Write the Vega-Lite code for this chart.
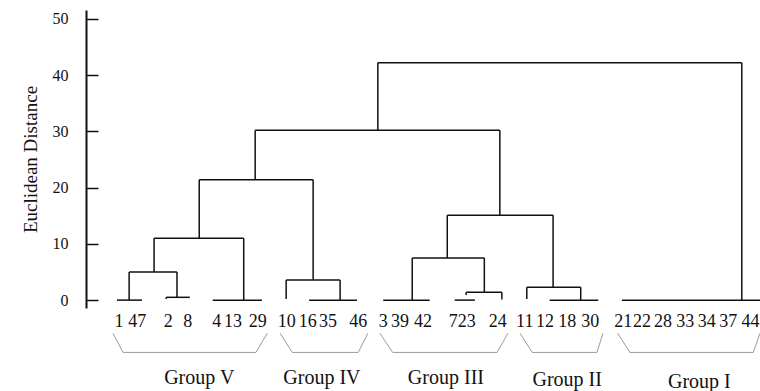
{
  "$schema": "https://vega.github.io/schema/vega-lite/v6.json",
  "width": 674,
  "height": 298,
  "autosize": {"type": "none"},
  "padding": {"left": 86, "top": 10, "right": 0, "bottom": 83},
  "background": "white",
  "config": {"view": {"stroke": null}, "font": "Liberation Serif"},
  "datasets": {
    "segs": [
      {"x1": 4.6, "x2": 8.3, "y1": 0, "y2": 0},
      {"x1": 6.4, "x2": 6.4, "y1": 0, "y2": 5.0},
      {"x1": 11.9, "x2": 15.4, "y1": 0.5, "y2": 0.5},
      {"x1": 11.9, "x2": 11.9, "y1": 0.2, "y2": 0.5},
      {"x1": 13.5, "x2": 13.5, "y1": 0.5, "y2": 5.0},
      {"x1": 6.4, "x2": 13.5, "y1": 5.0, "y2": 5.0},
      {"x1": 10.1, "x2": 10.1, "y1": 5.0, "y2": 11.0},
      {"x1": 18.8, "x2": 26.1, "y1": 0, "y2": 0},
      {"x1": 23.4, "x2": 23.4, "y1": 0, "y2": 11.0},
      {"x1": 10.1, "x2": 23.4, "y1": 11.0, "y2": 11.0},
      {"x1": 16.8, "x2": 16.8, "y1": 11.0, "y2": 21.4},
      {"x1": 29.7, "x2": 29.7, "y1": 0.2, "y2": 3.6},
      {"x1": 33.1, "x2": 40.2, "y1": 0, "y2": 0},
      {"x1": 37.7, "x2": 37.7, "y1": 0, "y2": 3.6},
      {"x1": 29.7, "x2": 37.7, "y1": 3.6, "y2": 3.6},
      {"x1": 33.7, "x2": 33.7, "y1": 3.6, "y2": 21.4},
      {"x1": 16.8, "x2": 33.7, "y1": 21.4, "y2": 21.4},
      {"x1": 25.1, "x2": 25.1, "y1": 21.4, "y2": 30.2},
      {"x1": 44.1, "x2": 51.0, "y1": 0, "y2": 0},
      {"x1": 48.4, "x2": 48.4, "y1": 0, "y2": 7.5},
      {"x1": 54.7, "x2": 57.7, "y1": 0, "y2": 0},
      {"x1": 56.4, "x2": 61.7, "y1": 1.4, "y2": 1.4},
      {"x1": 61.7, "x2": 61.7, "y1": 0.1, "y2": 1.4},
      {"x1": 56.4, "x2": 56.4, "y1": 0.9, "y2": 1.4},
      {"x1": 59.1, "x2": 59.1, "y1": 1.4, "y2": 7.5},
      {"x1": 48.4, "x2": 59.1, "y1": 7.5, "y2": 7.5},
      {"x1": 53.6, "x2": 53.6, "y1": 7.5, "y2": 15.1},
      {"x1": 65.4, "x2": 65.4, "y1": 0.2, "y2": 2.3},
      {"x1": 68.8, "x2": 76.0, "y1": 0, "y2": 0},
      {"x1": 73.4, "x2": 73.4, "y1": 0, "y2": 2.3},
      {"x1": 65.4, "x2": 73.4, "y1": 2.3, "y2": 2.3},
      {"x1": 69.3, "x2": 69.3, "y1": 2.3, "y2": 15.1},
      {"x1": 53.6, "x2": 69.3, "y1": 15.1, "y2": 15.1},
      {"x1": 61.4, "x2": 61.4, "y1": 15.1, "y2": 30.2},
      {"x1": 25.1, "x2": 61.4, "y1": 30.2, "y2": 30.2},
      {"x1": 43.3, "x2": 43.3, "y1": 30.2, "y2": 42.2},
      {"x1": 79.5, "x2": 100, "y1": 0, "y2": 0},
      {"x1": 97.3, "x2": 97.3, "y1": 0, "y2": 42.2},
      {"x1": 43.3, "x2": 97.3, "y1": 42.2, "y2": 42.2}
    ],
    "leaves": [
      {"id": "1", "x": 4.9}, {"id": "47", "x": 7.6}, {"id": "2", "x": 12.2}, {"id": "8", "x": 15.1},
      {"id": "4", "x": 19.4}, {"id": "13", "x": 21.8}, {"id": "29", "x": 25.5},
      {"id": "10", "x": 29.8}, {"id": "16", "x": 32.9}, {"id": "35", "x": 35.9}, {"id": "46", "x": 40.4},
      {"id": "3", "x": 44.1}, {"id": "39", "x": 46.6}, {"id": "42", "x": 50.0},
      {"id": "7", "x": 54.5}, {"id": "23", "x": 56.5}, {"id": "24", "x": 61.1},
      {"id": "11", "x": 65.1}, {"id": "12", "x": 68.1}, {"id": "18", "x": 71.4}, {"id": "30", "x": 74.8},
      {"id": "21", "x": 79.7}, {"id": "22", "x": 82.5}, {"id": "28", "x": 85.6}, {"id": "33", "x": 88.9},
      {"id": "34", "x": 92.1}, {"id": "37", "x": 95.3}, {"id": "44", "x": 98.6}
    ],
    "brackets": [
      {"g": "V", "o": 1, "x": 4.0, "y": -5.9}, {"g": "V", "o": 2, "x": 5.5, "y": -9.3},
      {"g": "V", "o": 3, "x": 25.2, "y": -9.3}, {"g": "V", "o": 4, "x": 26.9, "y": -5.9},
      {"g": "IV", "o": 1, "x": 28.8, "y": -5.9}, {"g": "IV", "o": 2, "x": 30.6, "y": -9.3},
      {"g": "IV", "o": 3, "x": 40.4, "y": -9.3}, {"g": "IV", "o": 4, "x": 41.8, "y": -5.9},
      {"g": "III", "o": 1, "x": 43.6, "y": -5.9}, {"g": "III", "o": 2, "x": 45.5, "y": -9.3},
      {"g": "III", "o": 3, "x": 61.0, "y": -9.3}, {"g": "III", "o": 4, "x": 62.6, "y": -5.9},
      {"g": "II", "o": 1, "x": 64.4, "y": -5.9}, {"g": "II", "o": 2, "x": 66.2, "y": -9.3},
      {"g": "II", "o": 3, "x": 75.8, "y": -9.3}, {"g": "II", "o": 4, "x": 76.7, "y": -5.9},
      {"g": "I", "o": 1, "x": 78.9, "y": -5.9}, {"g": "I", "o": 2, "x": 80.7, "y": -9.3},
      {"g": "I", "o": 3, "x": 99.0, "y": -9.3}, {"g": "I", "o": 4, "x": 100, "y": -5.9}
    ],
    "groups": [
      {"name": "Group V", "x": 16.8, "y": -13.9},
      {"name": "Group IV", "x": 35.0, "y": -13.9},
      {"name": "Group III", "x": 53.4, "y": -13.8},
      {"name": "Group II", "x": 71.4, "y": -14.2},
      {"name": "Group I", "x": 91.0, "y": -14.6}
    ]
  },
  "layer": [
    {
      "data": {"name": "segs"},
      "mark": {"type": "rule", "color": "#111", "strokeWidth": 1.5},
      "encoding": {
        "x": {"field": "x1", "type": "quantitative", "scale": {"domain": [0, 100], "nice": false, "zero": false}, "axis": null},
        "x2": {"field": "x2"},
        "y": {"field": "y1", "type": "quantitative", "scale": {"domain": [-1.4, 51.6], "nice": false, "zero": false},
          "axis": {"title": "Euclidean Distance", "values": [0, 10, 20, 30, 40, 50], "grid": false,
            "domainColor": "#111", "domainWidth": 2, "tickColor": "#111", "tickWidth": 1.5, "tickSize": -12,
            "labelPadding": 30, "labelFontSize": 16, "labelColor": "#111", "labelFont": "Liberation Serif",
            "titleFont": "Liberation Serif", "titleFontSize": 19, "titleFontWeight": "normal", "titleColor": "#111",
            "titleX": -56, "titleY": 149, "titleBaseline": "middle", "titleAngle": -90}},
        "y2": {"field": "y2"}
      }
    },
    {
      "data": {"name": "leaves"},
      "mark": {"type": "text", "font": "Liberation Serif", "fontSize": 18, "color": "#111", "baseline": "middle"},
      "encoding": {
        "x": {"field": "x", "type": "quantitative"},
        "y": {"datum": -3.9, "type": "quantitative"},
        "text": {"field": "id"}
      }
    },
    {
      "data": {"name": "brackets"},
      "mark": {"type": "line", "color": "#9a9a9a", "strokeWidth": 1},
      "encoding": {
        "x": {"field": "x", "type": "quantitative"},
        "y": {"field": "y", "type": "quantitative"},
        "detail": {"field": "g"},
        "order": {"field": "o"}
      }
    },
    {
      "data": {"name": "groups"},
      "mark": {"type": "text", "font": "Liberation Serif", "fontSize": 20, "color": "#111", "baseline": "middle"},
      "encoding": {
        "x": {"field": "x", "type": "quantitative"},
        "y": {"field": "y", "type": "quantitative"},
        "text": {"field": "name"}
      }
    }
  ]
}
